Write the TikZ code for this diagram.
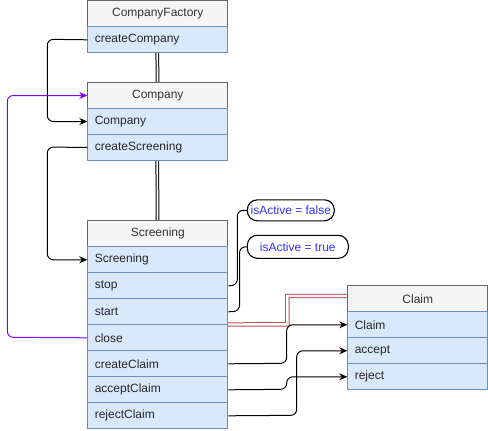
\documentclass[tikz,border=0pt]{standalone}
\usepackage{fontspec}
\setmainfont{Liberation Sans}
\usetikzlibrary{arrows.meta}

\definecolor{hdrfill}{HTML}{F5F5F5}
\definecolor{hdrline}{HTML}{666666}
\definecolor{hdrtext}{HTML}{333333}
\definecolor{rowfill}{HTML}{DAE8FC}
\definecolor{rowline}{HTML}{6C8EBF}
\definecolor{linkred}{HTML}{B85450}
\definecolor{callviolet}{HTML}{7F00FF}
\definecolor{notetext}{HTML}{3333FF}

\tikzset{
  txt/.style={font=\fontsize{12}{14}\selectfont},
  cell/.style={txt, inner sep=0pt, anchor=north west, minimum height=26pt, line width=1pt},
  classhead/.style={cell, draw=hdrline, fill=hdrfill, text=hdrtext, minimum width=140pt},
  member/.style={cell, draw=rowline, fill=rowfill, text=black!85,
                 text width=126pt, inner xsep=7pt, align=left},
  classframe/.style={anchor=north west, inner sep=0pt, minimum width=140pt},
  note/.style={txt, draw, line width=1.1pt, fill=white, text=notetext,
               rounded corners=10pt, inner sep=0pt},
  call/.style={line width=1pt, rounded corners=6pt, -{Stealth[length=8pt,width=7pt]}},
  flag/.style={line width=1pt, rounded corners=6pt},
  link/.style={line width=1pt, double=white, double distance=1.7pt},
  redlink/.style={draw=linkred, line width=1pt, double=white, double distance=2.4pt}
}

\begin{document}
\begin{tikzpicture}[x=1pt,y=-1pt]
\useasboundingbox (0,0) rectangle (488,431);

% class outlines used as link ends
\node[classframe, minimum height=52pt]  (factory)   at (87.3,0.3) {};
\node[classframe, minimum height=78pt]  (company)   at (87.3,82) {};
\node[classframe, minimum height=208pt] (screening) at (87.3,220.3) {};
\node[classframe, minimum height=104pt] (claim)     at (347.3,285.3) {};

% composition links between classes
\draw[link] (157.3,52.3) -- (company.north);
\draw[link] (157.3,160) -- (screening.north);
\draw[redlink] (screening.east) -- (287.3,324.3) -- (287.3,296) -- (claim.north west |- 0,296);

% CompanyFactory
\node[classhead] (cfHead) at (87.3,0.3) {CompanyFactory};
\node[member] (cfCreate) at (87.3,26.3) {createCompany};

% Company
\node[classhead] (coHead) at (87.3,82) {Company};
\node[member] (coCtor)   at (87.3,108) {Company};
\node[member] (coScreen) at (87.3,134) {createScreening};

% Screening
\node[classhead] (scHead) at (87.3,220.3) {Screening};
\node[member] (scCtor)   at (87.3,246.3) {Screening};
\node[member] (scStop)   at (87.3,272.3) {stop};
\node[member] (scStart)  at (87.3,298.3) {start};
\node[member] (scClose)  at (87.3,324.3) {close};
\node[member] (scCreate) at (87.3,350.3) {createClaim};
\node[member] (scAccept) at (87.3,376.3) {acceptClaim};
\node[member] (scReject) at (87.3,402.3) {rejectClaim};

% Claim
\node[classhead] (clHead) at (347.3,285.3) {Claim};
\node[member] (clCtor)   at (347.3,311.3) {Claim};
\node[member] (clAccept) at (347.3,337.3) {accept};
\node[member] (clReject) at (347.3,363.3) {reject};

% state notes
\node[note, minimum width=87pt, minimum height=21pt]  (nFalse) at (290.8,210.3) {isActive = false};
\node[note, minimum width=101pt, minimum height=23pt] (nTrue)  at (297.8,246.8) {isActive = true};

% calls
\draw[call] (cfCreate.west) -- (47.3,39.3) |- (coCtor.west);
\draw[call] (coScreen.west) -- (47.3,147) |- (scCtor.west);
\draw[call, draw=callviolet, -{Stealth[length=8pt,width=7pt]}] (scClose.west) -- (7.3,337.3) |- (coHead.west);

\draw[call] (scCreate.east) -- (286.7,363.3) |- (clCtor.west);
\draw[call] (scAccept.east) -- (286.7,389.3) |- (clReject.west);
\draw[call] (scReject.east) -- (296.7,415.3) |- (clAccept.west);

% state changes
\draw[flag] (scStop.east) -- (237.3,285.3) |- (nFalse.west);
\draw[flag] (scStart.east) -- (239.5,311.3) |- (nTrue.west);
\end{tikzpicture}
\end{document}
